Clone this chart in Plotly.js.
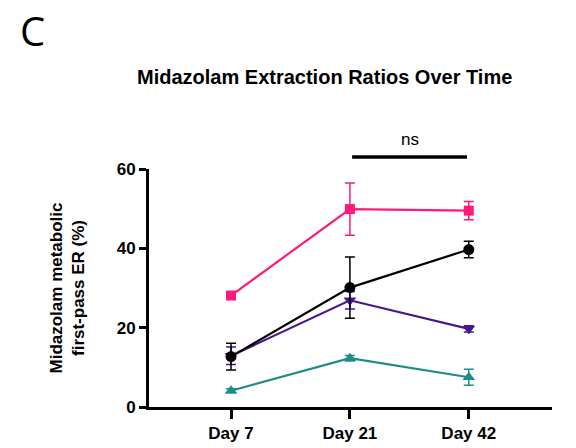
<!DOCTYPE html>
<html><head><meta charset="utf-8">
<script src="https://cdn.plot.ly/plotly-3.0.1.min.js"></script>
<style>html,body{margin:0;padding:0;background:#fff}</style>
</head><body>
<div id="chart" style="width:576px;height:448px"></div>
<script>
const days = ["Day 7", "Day 21", "Day 42"];
const tealVals = [4.1, 12.3, 7.5];
const tealErr = [0.5, 0.7, 2.0];
const purpleVals = [12.9, 26.9, 19.7];
const purpleErr = [2.2, 2.2, 0.8];
const blackVals = [12.7, 30.1, 39.7];
const blackErr = [3.4, 7.7, 2.1];
const pinkVals = [28.1, 49.9, 49.5];
const pinkErr = [0.4, 6.6, 2.3];
const yTicks = [0, 20, 40, 60];

function series(vals, err, color, symbol, size) {
  return {
    x: days, y: vals, type: "scatter", mode: "lines+markers",
    line: {color: color, width: 2.2},
    marker: {color: color, symbol: symbol, size: size},
    error_y: {type: "data", array: err, visible: true, color: color, thickness: 1.5, width: 5},
    cliponaxis: false, showlegend: false, hoverinfo: "skip"
  };
}
const data = [
  series(tealVals, tealErr, "#1E8C88", "triangle-up", 11),
  series(purpleVals, purpleErr, "#4A1490", "triangle-down", 11),
  series(blackVals, blackErr, "#000000", "circle", 11),
  series(pinkVals, pinkErr, "#FF1A78", "square", 10)
];
const FONT = "'Liberation Sans', Arial, sans-serif";
const tickFont = {family: FONT, size: 17, color: "#000", weight: "bold"};
const layout = {
  width: 576, height: 448,
  margin: {l: 149, r: 24, t: 169, b: 41},
  paper_bgcolor: "#fff", plot_bgcolor: "#fff",
  font: {family: FONT},
  xaxis: {
    type: "category", range: [-0.69, 2.7],
    showgrid: false, zeroline: false,
    showline: true, linecolor: "#000", linewidth: 3,
    ticks: "outside", ticklen: 9, tickwidth: 3, tickcolor: "#000",
    tickfont: tickFont
  },
  yaxis: {
    range: [0, 60], tickvals: yTicks, ticktext: yTicks.map(String),
    showgrid: false, zeroline: false,
    showline: true, linecolor: "#000", linewidth: 3,
    ticks: "outside", ticklen: 7, tickwidth: 3, tickcolor: "#000",
    tickfont: tickFont,
    title: {text: "Midazolam metabolic<br>first-pass ER (%)", standoff: 28,
      font: {family: FONT, size: 17, color: "#000", weight: "bold"}}
  },
  shapes: [
    {type: "line", xref: "paper", yref: "paper", x0: 0.504, x1: 0.789, y0: 1.05, y1: 1.05,
     line: {color: "#000", width: 3.5}}
  ],
  annotations: [
    {text: "Midazolam Extraction Ratios Over Time", xref: "paper", yref: "paper",
     x: (324 - 149) / 403, y: 1 + (169 - 77) / 238, xanchor: "center", yanchor: "middle", showarrow: false,
     font: {family: FONT, size: 20, color: "#000", weight: "bold"}},
    {text: "C", xref: "paper", yref: "paper",
     x: (18 - 149) / 403, y: 1 + (169 - 1) / 238, xanchor: "left", yanchor: "top", showarrow: false,
     font: {family: "'Open Sans', 'Noto Sans', sans-serif", size: 40, color: "#000"}},
    {text: "ns", xref: "paper", yref: "paper",
     x: (410 - 149) / 403, y: 1 + (169 - 139) / 238, xanchor: "center", yanchor: "middle", showarrow: false,
     font: {family: FONT, size: 17, color: "#000"}}
  ]
};
Plotly.newPlot("chart", data, layout, {staticPlot: true, displayModeBar: false});
</script>
</body></html>
